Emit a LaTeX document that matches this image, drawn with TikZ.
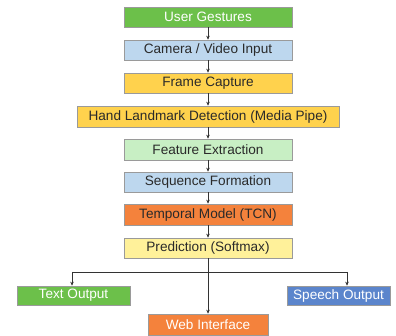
\documentclass[tikz,border=0pt]{standalone}
\usepackage{fontspec}
\setmainfont{Liberation Sans}
\usetikzlibrary{arrows.meta}
\definecolor{cgreen}{HTML}{6CC04A}
\definecolor{cblue}{HTML}{BDD7EE}
\definecolor{cyellow}{HTML}{FFD24D}
\definecolor{clgreen}{HTML}{C8EFC4}
\definecolor{corange}{HTML}{F4823C}
\definecolor{clyellow}{HTML}{FFF19A}
\definecolor{cdblue}{HTML}{5B85CC}
\definecolor{cborder}{HTML}{9A9A9A}
\definecolor{ctext}{HTML}{2A2A2A}
\definecolor{cline}{HTML}{333333}
\tikzset{
  box/.style={draw=cborder, line width=0.6pt, inner sep=0pt, font=\fontsize{13.6}{15}\selectfont, text=ctext},
  wbox/.style={box, text=white},
  arr/.style={draw=cline, line width=0.7pt, -{Stealth[length=4pt,width=3.5pt]}},
  ln/.style={draw=cline, line width=0.7pt}
}
\begin{document}
\begin{tikzpicture}[x=1pt,y=-1pt]
\useasboundingbox (0,0) rectangle (396,336);
\def\bx#1#2#3#4#5#6#7{\node[#7, fill=#6, minimum width=#3-#1, minimum height=#4-#2] (#5) at ({(#1+#3)/2},{(#2+#4)/2})}
\bx{124}{7}{292}{27}{ug}{cgreen}{wbox} {User Gestures};
\bx{124}{40}{292}{60}{cam}{cblue}{box} {Camera / Video Input};
\bx{124}{73}{292}{93}{fc}{cyellow}{box} {Frame Capture};
\bx{77}{106}{339}{127}{hl}{cyellow}{box} {Hand Landmark Detection (Media Pipe)};
\bx{124}{139}{292}{160}{fe}{clgreen}{box} {Feature Extraction};
\bx{124}{172}{292}{192}{sf}{cblue}{box} {Sequence Formation};
\bx{124}{204}{292}{225}{tm}{corange}{box} {Temporal Model (TCN)};
\bx{124}{238}{292}{258}{pr}{clyellow}{box} {Prediction (Softmax)};
\bx{17}{286}{130}{305}{to}{cgreen}{wbox} {Text Output};
\bx{287}{286}{390}{305}{so}{cdblue}{wbox} {Speech Output};
\bx{148}{314}{268}{335}{wi}{corange}{wbox} {Web Interface};
\draw[arr] (ug) -- (cam);
\draw[arr] (cam) -- (fc);
\draw[arr] (fc) -- (hl);
\draw[arr] (hl) -- (fe);
\draw[arr] (fe) -- (sf);
\draw[arr] (sf) -- (tm);
\draw[arr] (tm) -- (pr);
\coordinate (jn) at (208,272);
\coordinate (jl) at (72,272);
\coordinate (jr) at (347,272);
\draw[arr] (pr.south -| jn) -- (wi.north -| jn);
\draw[ln] (jl) -- (jr);
\draw[arr] (jl) -- (to.north -| jl);
\draw[arr] (jr) -- (so.north -| jr);
\end{tikzpicture}
\end{document}
